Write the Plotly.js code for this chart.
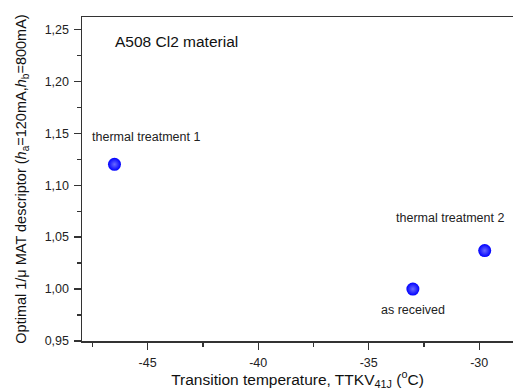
<!DOCTYPE html>
<html>
<head>
<meta charset="utf-8">
<script src="https://cdn.plot.ly/plotly-3.0.1.min.js"></script>
<style>html,body{margin:0;padding:0;background:#fff;}#chart{width:513px;height:390px;}</style>
</head>
<body>
<div id="chart"></div>
<script>
// Data
const labels = ["thermal treatment 1", "as received", "thermal treatment 2"];
const transitionTemp = [-46.5, -33.0, -29.75];
const descriptor = [1.120, 1.000, 1.037];

const xTickVals = [-45, -40, -35, -30];
const xTickText = ["-45", "-40", "-35", "-30"];
const yTickVals = [0.95, 1.00, 1.05, 1.10, 1.15, 1.20, 1.25];
const yTickText = ["0,95", "1,00", "1,05", "1,10", "1,15", "1,20", "1,25"];

// label offsets in pixels (styling)
const labelShiftX = [32, 0, -35];
const labelShiftY = [27, -21, 33];

const FONT = "Liberation Sans, Arial, sans-serif";

const trace = {
  x: transitionTemp,
  y: descriptor,
  type: "scatter",
  mode: "markers",
  marker: {
    size: 13,
    color: "#0000ff",
    gradient: {type: "radial", color: "#6a6aff"},
    line: {width: 0}
  },
  hoverinfo: "x+y"
};

const annotations = labels.map((t, i) => ({
  x: transitionTemp[i], y: descriptor[i], xref: "x", yref: "y",
  text: t, showarrow: false, xshift: labelShiftX[i], yshift: labelShiftY[i],
  font: {family: FONT, size: 12.5, color: "#222"}
}));
annotations.push({
  xref: "paper", yref: "paper", x: 0.072, y: 0.925, xanchor: "left", yanchor: "middle",
  text: "A508 Cl2 material", showarrow: false,
  font: {family: FONT, size: 15.5, color: "#111"}
});

const axisCommon = {
  showgrid: false, zeroline: false, showline: true, linecolor: "#333", linewidth: 1.5,
  ticks: "outside", ticklen: 7, tickwidth: 1.2, tickcolor: "#333",
  tickfont: {family: FONT, size: 12.5, color: "#222"},
  tickmode: "array"
};

const layout = {
  width: 513, height: 390,
  margin: {l: 82, r: 0, t: 17, b: 49},
  paper_bgcolor: "#fff", plot_bgcolor: "#fff",
  showlegend: false,
  font: {family: FONT},
  xaxis: Object.assign({}, axisCommon, {
    range: [-47.97, -28.47],
    tickvals: xTickVals, ticktext: xTickText,
    mirror: true,
    minor: {ticks: "outside", ticklen: 4, dtick: 2.5, tick0: -47.5, tickcolor: "#333", tickwidth: 1.2},
    ticklabelstandoff: 2,
    title: {text: "Transition temperature, TTKV<sub>41J</sub> (<sup>o</sup>C)", font: {family: FONT, size: 15.5, color: "#111"}, standoff: 4}
  }),
  yaxis: Object.assign({}, axisCommon, {
    range: [0.95, 1.2618],
    tickvals: yTickVals, ticktext: yTickText,
    minor: {ticks: "outside", ticklen: 4, dtick: 0.025, tick0: 0.95, tickcolor: "#333", tickwidth: 1.2},
    ticklabelstandoff: 2,
    title: {text: "Optimal 1/μ MAT descriptor (<i>h</i><sub>a</sub>=120mA,<i>h</i><sub>b</sub>=800mA)", font: {family: FONT, size: 14.5, color: "#111"}, standoff: 14}
  }),
  annotations: annotations
};

Plotly.newPlot("chart", [trace], layout, {displayModeBar: false, staticPlot: true});
</script>
</body>
</html>
